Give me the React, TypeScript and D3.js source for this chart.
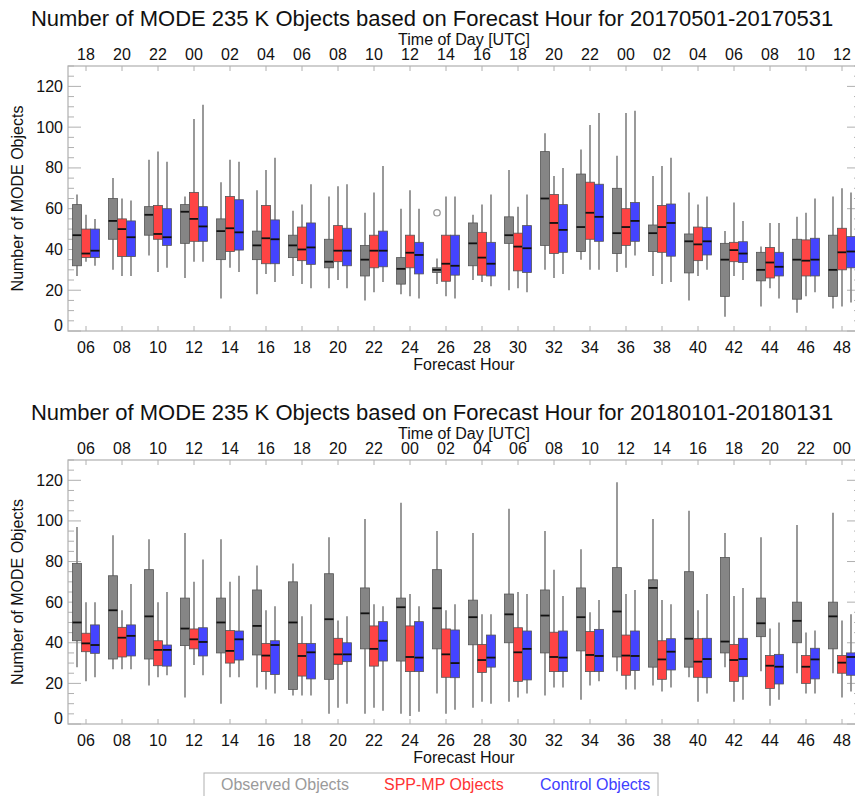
import React, { useEffect, useRef } from 'react';
import * as d3 from 'd3';

// [whisker low, box low, median, box high, whisker high]
type Box = [number, number, number, number, number];

const forecastHours = [6, 8, 10, 12, 14, 16, 18, 20, 22, 24, 26, 28, 30, 32, 34, 36, 38, 40, 42, 44, 46, 48];
const hourLabels = ['06', '08', '10', '12', '14', '16', '18', '20', '22', '24', '26', '28', '30', '32', '34', '36', '38', '40', '42', '44', '46', '48'];
const timeLabelsMay = ['18', '20', '22', '00', '02', '04', '06', '08', '10', '12', '14', '16', '18', '20', '22', '00', '02', '04', '06', '08', '10', '12'];
const timeLabelsJan = ['06', '08', '10', '12', '14', '16', '18', '20', '22', '00', '02', '04', '06', '08', '10', '12', '14', '16', '18', '20', '22', '00'];
const yTicks = [0, 20, 40, 60, 80, 100, 120];

const obsMay: Box[] = [
    [27, 32, 47, 62, 67], [30, 45, 54, 65, 75], [37, 47, 57, 61, 84], [26, 43, 58.5, 62, 66],
    [16, 35, 49, 55, 73], [18, 35, 42, 49, 69], [27, 36, 42, 47, 59], [21, 31, 34, 45, 66],
    [15, 27, 35, 42, 58], [18, 23, 30.5, 36, 60], [23, 28.7, 30, 31, 35.6], [25, 32, 43, 53, 57],
    [20, 43, 47, 56, 79], [30, 42, 65, 88, 97], [35, 39, 51, 77, 89], [29, 38, 48, 70, 86],
    [27, 39, 48, 52, 76], [15, 28.5, 44, 47.6, 68], [7, 17, 35, 43, 49], [12, 24.6, 30, 38.6, 41.4],
    [9, 15.6, 35, 45, 56], [11, 17, 30, 47, 66],
];
const sppMay: Box[] = [
    [34, 36, 38, 50, 57], [27, 36.5, 50, 55, 65], [29, 45, 47.6, 61.6, 88], [34, 44, 55, 68, 104],
    [31, 39, 50.4, 66, 84], [28, 33, 45.5, 61.6, 79], [23, 34.5, 40, 51, 62], [25, 34, 39.4, 51.7, 71],
    [19, 31, 39.4, 47, 68], [17, 31, 38.4, 47, 69], [17, 24.4, 33, 47, 66], [24, 27.4, 36, 48.4, 62],
    [21, 29.5, 41.4, 48, 61], [26, 38, 53, 67, 76], [30, 45, 58, 73, 101], [31, 42, 51, 60, 107],
    [23, 38.6, 51, 61.6, 81], [27, 34.5, 42.5, 51, 62], [27, 34, 39.7, 43.5, 63], [21, 26, 33.6, 41, 53],
    [17, 27, 34.5, 44.7, 58], [12, 30, 38.6, 50.4, 70],
];
const ctlMay: Box[] = [
    [32, 36, 39.4, 50, 55], [27, 36.5, 46, 54, 64], [31, 42, 46, 60, 83], [34, 44, 51.3, 61, 111],
    [29, 39.7, 48.4, 64.4, 83], [24, 33, 45, 54.5, 85], [21, 32.7, 41, 53, 72], [21, 32, 39.4, 50.4, 72],
    [24, 31.5, 39.4, 49, 81], [16, 28, 37.3, 43.5, 60], [16, 27.4, 32, 47, 66], [22, 27, 33, 43.5, 67],
    [19, 28.7, 40.6, 51.7, 67], [28, 38.6, 49.6, 62, 80], [30, 44, 56, 72, 107], [37, 44, 54, 63, 108],
    [24, 36.7, 53, 62.3, 85], [30, 37.3, 44, 50.7, 66], [25, 33.6, 38, 43.8, 54], [16, 27, 31.5, 38.6, 53],
    [19, 27, 35, 45.5, 65], [14, 31, 39, 46.3, 68],
];
// one observed outlier: [forecast hour, value]
const outliersMay: [number, number][] = [[26, 58]];

const obsJan: Box[] = [
    [28, 41, 50, 79, 97], [27, 32, 56, 73, 93], [19, 32, 53, 76, 91], [13, 38.6, 47, 62, 94],
    [10, 35, 50, 62, 91], [18, 34, 48.3, 66, 78], [14, 17, 50, 70, 79], [5, 22, 51.6, 74, 92],
    [5, 37, 54.5, 67, 101], [5, 31, 57.5, 62, 109], [15, 37, 57, 76, 95], [8, 39, 52.6, 61, 94],
    [11, 40, 54, 64, 106], [14, 35, 53.4, 66, 95], [12, 36, 52.6, 67, 86], [26, 33, 55.4, 77, 119],
    [19, 28, 67, 71, 101], [23, 28, 42, 75, 105], [28, 35, 40.6, 82, 94], [26, 43, 49.6, 62, 92],
    [25, 40, 50.8, 60, 98], [25, 37, 53, 60, 104],
];
const sppJan: Box[] = [
    [21, 35.6, 39.7, 44.7, 60], [27, 33, 42.5, 47.6, 56], [23, 28.7, 36.5, 41, 60], [29, 37, 41.7, 46.8, 70],
    [23, 30, 36, 46, 70], [17, 25.8, 33.7, 39.7, 56], [14, 23.6, 33.5, 39.7, 53], [8, 29.4, 34.3, 42.2, 51],
    [8, 28.5, 37, 48.3, 59], [4, 25.8, 33, 48.3, 64], [5, 23, 34.3, 46.8, 56], [11, 25.4, 31.5, 39.2, 54],
    [13, 21, 35.3, 47.4, 65], [18, 25.8, 33, 45.2, 76], [19, 25.8, 34, 45.5, 55], [17, 24, 33.7, 43.8, 64],
    [16, 22, 31.8, 41, 61], [11, 23, 30.7, 42, 56], [11, 21, 31.5, 39.2, 63], [9, 17.5, 28.7, 33.7, 47],
    [15, 20, 28.2, 33.7, 45], [13, 25, 30.2, 33.7, 51],
];
const ctlJan: Box[] = [
    [23, 34.8, 38.9, 48.8, 60], [27, 33.5, 43.4, 48.8, 69], [24, 28.5, 36.5, 38.9, 65], [24, 33.5, 40.4, 47.4, 81],
    [23, 31.5, 41.7, 45.8, 73], [15, 24.4, 38.9, 41, 58], [14, 22.2, 35.3, 39.7, 59], [10, 30.7, 34.3, 40, 53],
    [6.5, 31, 41, 50.4, 58], [6, 25.8, 32.7, 50.4, 58], [7, 22.8, 30, 46.3, 59], [10, 28, 32.7, 43.8, 54],
    [15, 21.7, 37, 45.8, 64], [18, 25.8, 32.7, 45.8, 63], [21, 25.8, 33.5, 46.6, 61], [17, 26.3, 33.5, 45.8, 66],
    [18, 26.6, 35.6, 42, 59], [15, 22.8, 32, 42.2, 64], [12, 23.3, 32, 42.2, 67], [12, 19.7, 28.2, 34.3, 50],
    [15, 22.2, 31.8, 37.3, 46], [16, 24, 33, 35, 54],
];
const outliersJan: [number, number][] = [];

const seriesNames = ['Observed Objects', 'SPP-MP Objects', 'Control Objects'];
const seriesFill = ['#858585', '#ff4444', '#4444ff'];
const legendText = ['#9a9a9a', '#ff3333', '#4040ff'];

const FONT = '"Liberation Sans", Arial, Helvetica, sans-serif';

interface PanelSpec {
    title: string;
    timeLabels: string[];
    series: Box[][];
    outliers: [number, number][];
    top: number;
    bottom: number;
}

const panels: PanelSpec[] = [
    {
        title: 'Number of MODE 235 K Objects based on Forecast Hour for 20170501-20170531',
        timeLabels: timeLabelsMay, series: [obsMay, sppMay, ctlMay], outliers: outliersMay, top: 66, bottom: 331,
    },
    {
        title: 'Number of MODE 235 K Objects based on Forecast Hour for 20180101-20180131',
        timeLabels: timeLabelsJan, series: [obsJan, sppJan, ctlJan], outliers: outliersJan, top: 460, bottom: 724,
    },
];

const App: React.FC = () => {
    const svgRef = useRef<SVGSVGElement>(null);

    useEffect(() => {
        if (!svgRef.current) return;
        const svg = d3.select(svgRef.current);
        svg.selectAll('*').remove();

        const left = 68;
        const right = 860;
        const axisColor = '#b0b0b0';

        const x = d3.scaleLinear().domain([5, 49]).range([left, right]);
        const boxW = x(5.5) - x(5);

        panels.forEach(p => {
            const y = d3.scaleLinear().domain([0, 130]).range([p.bottom, p.top]);
            const g = svg.append('g');

            // titles
            g.append('text')
                .attr('x', 432).attr('y', p.top - 40)
                .attr('text-anchor', 'middle')
                .attr('font-size', 22).attr('fill', '#111')
                .text(p.title);
            g.append('text')
                .attr('x', 464).attr('y', p.top - 21)
                .attr('text-anchor', 'middle')
                .attr('font-size', 16).attr('fill', '#111')
                .text('Time of Day [UTC]');

            // frame
            g.append('rect')
                .attr('x', left).attr('y', p.top)
                .attr('width', right - left).attr('height', p.bottom - p.top)
                .attr('fill', 'none').attr('stroke', axisColor).attr('stroke-width', 1.2);

            // y ticks on both sides
            const minor = d3.range(0, 131, 5);
            minor.forEach(v => {
                const len = v % 20 === 0 ? 13 : 6;
                g.append('line').attr('x1', left).attr('x2', left + len)
                    .attr('y1', y(v)).attr('y2', y(v)).attr('stroke', axisColor);
                g.append('line').attr('x1', right).attr('x2', right - len)
                    .attr('y1', y(v)).attr('y2', y(v)).attr('stroke', axisColor);
            });
            yTicks.forEach(v => {
                g.append('text')
                    .attr('x', 63).attr('y', y(v) + (v === 0 ? 0 : 5.5))
                    .attr('text-anchor', 'end')
                    .attr('font-size', 16).attr('fill', '#111')
                    .text(String(v));
            });

            // x ticks, bottom and top
            forecastHours.forEach((h, i) => {
                g.append('line').attr('x1', x(h)).attr('x2', x(h))
                    .attr('y1', p.bottom).attr('y2', p.bottom - 5).attr('stroke', axisColor);
                g.append('line').attr('x1', x(h)).attr('x2', x(h))
                    .attr('y1', p.top).attr('y2', p.top + 5).attr('stroke', axisColor);
                g.append('text')
                    .attr('x', x(h)).attr('y', p.bottom + 22)
                    .attr('text-anchor', 'middle')
                    .attr('font-size', 16).attr('fill', '#111')
                    .text(hourLabels[i]);
                g.append('text')
                    .attr('x', x(h)).attr('y', p.top - 6)
                    .attr('text-anchor', 'middle')
                    .attr('font-size', 16).attr('fill', '#111')
                    .text(p.timeLabels[i]);
            });

            g.append('text')
                .attr('x', 464).attr('y', p.bottom + 39)
                .attr('text-anchor', 'middle')
                .attr('font-size', 16).attr('fill', '#111')
                .text('Forecast Hour');

            g.append('text')
                .attr('transform', `translate(23,${(p.top + p.bottom) / 2}) rotate(-90)`)
                .attr('text-anchor', 'middle')
                .attr('font-size', 16).attr('fill', '#111')
                .text('Number of MODE Objects');

            // boxes
            const plot = g.append('g');
            p.series.forEach((data, s) => {
                const offset = (s - 1) * 0.5;
                data.forEach((b, i) => {
                    const cx = x(forecastHours[i] + offset);
                    const [lo, q1, med, q3, hi] = b;
                    plot.append('line')
                        .attr('x1', cx).attr('x2', cx)
                        .attr('y1', y(lo)).attr('y2', y(hi))
                        .attr('stroke', '#888').attr('stroke-width', 1.7);
                    plot.append('rect')
                        .attr('x', cx - boxW / 2).attr('y', y(q3))
                        .attr('width', boxW).attr('height', Math.max(1, y(q1) - y(q3)))
                        .attr('fill', seriesFill[s])
                        .attr('stroke', '#555').attr('stroke-width', 0.8);
                    plot.append('line')
                        .attr('x1', cx - boxW / 2).attr('x2', cx + boxW / 2)
                        .attr('y1', y(med)).attr('y2', y(med))
                        .attr('stroke', '#111').attr('stroke-width', 1.8);
                });
            });

            p.outliers.forEach(([h, v]) => {
                plot.append('circle')
                    .attr('cx', x(h - 0.5)).attr('cy', y(v)).attr('r', 3.2)
                    .attr('fill', 'none').attr('stroke', '#999').attr('stroke-width', 1.3);
            });
        });

        // legend
        const legend = svg.append('g');
        legend.append('rect')
            .attr('x', 204).attr('y', 773).attr('width', 454).attr('height', 40)
            .attr('fill', 'none').attr('stroke', axisColor);
        const legendX = [221, 384, 540];
        seriesNames.forEach((name, i) => {
            legend.append('text')
                .attr('x', legendX[i]).attr('y', 790)
                .attr('font-size', 16).attr('fill', legendText[i])
                .text(name);
        });
    }, []);

    return (
        <svg
            ref={svgRef}
            width={855}
            height={796}
            style={{ position: 'absolute', left: 0, top: 0, background: '#fff', fontFamily: FONT }}
        />
    );
};

export default App;
